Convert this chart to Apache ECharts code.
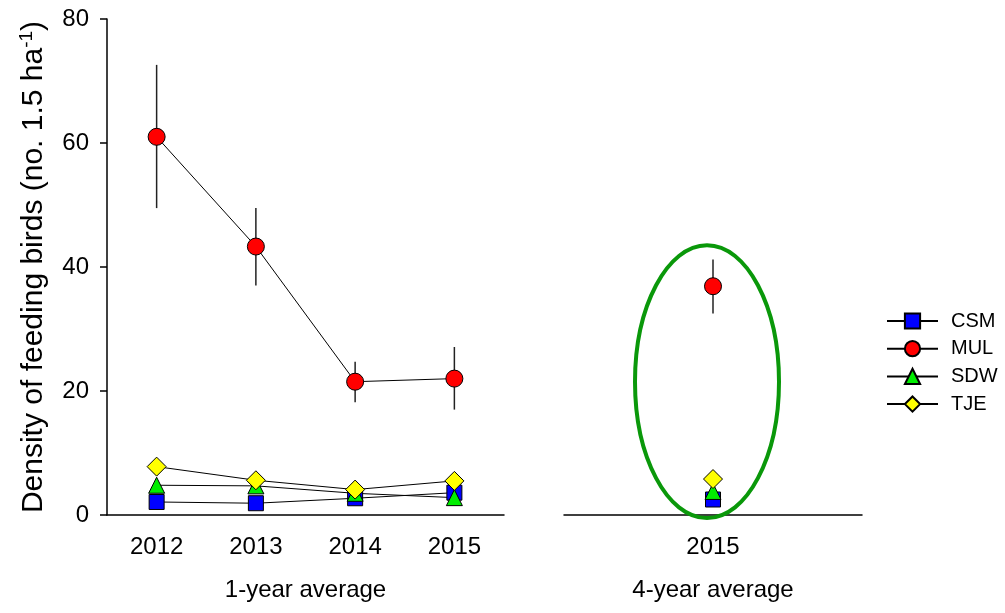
<!DOCTYPE html>
<html>
<head>
<meta charset="utf-8">
<script src="https://cdn.jsdelivr.net/npm/echarts@6/dist/echarts.min.js"></script>
<style>
html,body{margin:0;padding:0;background:#fff;}
#main{width:1005px;height:613px;}
</style>
</head>
<body>
<div id="main"></div>
<script>
// ---- data ----
const years1 = ['2012', '2013', '2014', '2015'];
const years4 = ['2015'];
const yTicks = [0, 20, 40, 60, 80];

const csm1 = [2.1, 1.9, 2.7, 3.6];
const mul1 = [61.0, 43.3, 21.5, 22.0];
const sdw1 = [4.8, 4.7, 3.5, 2.8];
const tje1 = [7.8, 5.6, 4.1, 5.5];
const mulLow1 = [49.5, 37.0, 18.2, 17.0];
const mulHigh1 = [72.6, 49.5, 24.7, 27.1];

const csm4 = [2.5];
const mul4 = [36.9];
const sdw4 = [3.8];
const tje4 = [5.8];
const mulLow4 = [32.5];
const mulHigh4 = [41.2];

const ellipseYRange = [-0.5, 43.5];

// ---- chart ----
const FONT = "'Liberation Sans', Arial, sans-serif";
const chart = echarts.init(document.getElementById('main'));

function errSeries(xIdx, cats, low, high) {
  return {
    type: 'custom', xAxisIndex: xIdx, yAxisIndex: xIdx, z: 1, silent: true,
    data: cats.map((c, i) => [i, low[i], high[i]]),
    encode: { x: 0, y: [1, 2] },
    renderItem: function (params, api) {
      const x = api.value(0);
      const p1 = api.coord([x, api.value(1)]);
      const p2 = api.coord([x, api.value(2)]);
      return { type: 'line', shape: { x1: p1[0], y1: p1[1], x2: p2[0], y2: p2[1] },
        style: { stroke: '#222', lineWidth: 1.5 } };
    }
  };
}

const styles = {
  CSM: { symbol: 'rect', size: 15, color: '#0000ff' },
  MUL: { symbol: 'circle', size: 17, color: '#ff0000' },
  SDW: { symbol: 'triangle', size: 16, color: '#00ee00' },
  TJE: { symbol: 'diamond', size: 19, color: '#ffff00' }
};

function lineSeries(name, xIdx, data) {
  const s = styles[name];
  return {
    name: name, type: 'line', xAxisIndex: xIdx, yAxisIndex: xIdx, z: 3,
    data: data, symbol: s.symbol, symbolSize: s.size,
    lineStyle: { color: '#000', width: 1 },
    itemStyle: { color: s.color, borderColor: '#000', borderWidth: 1 },
    emphasis: { disabled: true }
  };
}

const axisCommon = {
  axisLine: { lineStyle: { color: '#000', width: 1.5 } },
  axisTick: { alignWithLabel: true, length: 6, lineStyle: { color: '#000', width: 1.5 } },
  axisLabel: { color: '#000', fontSize: 24, fontFamily: FONT, margin: 20 },
  nameLocation: 'middle',
  nameTextStyle: { color: '#000', fontSize: 24, fontFamily: FONT },
  splitLine: { show: false }
};

const option = {
  animation: false,
  backgroundColor: '#fff',
  textStyle: { fontFamily: FONT },
  grid: [
    { left: 107, top: 19, width: 397, height: 496 },
    { left: 564, top: 19, width: 298, height: 496 }
  ],
  xAxis: [
    Object.assign({}, axisCommon, { type: 'category', gridIndex: 0, data: years1, name: '1-year average', nameGap: 63 }),
    Object.assign({}, axisCommon, { type: 'category', gridIndex: 1, data: years4, name: '4-year average', nameGap: 63 })
  ],
  yAxis: [
    {
      type: 'value', gridIndex: 0, min: yTicks[0], max: yTicks[yTicks.length - 1], interval: 20,
      axisLine: { show: true, lineStyle: { color: '#000', width: 1.5 } },
      axisTick: { show: true, length: 7, lineStyle: { color: '#000', width: 1.5 } },
      axisLabel: { color: '#000', fontSize: 24, fontFamily: FONT, margin: 18 },
      splitLine: { show: false },
      name: 'Density of feeding birds (no. 1.5 ha{sup|-1})',
      nameLocation: 'middle', nameGap: 57,
      nameTextStyle: { color: '#000', fontSize: 30, fontFamily: FONT,
        rich: { sup: { fontSize: 19, fontFamily: FONT, color: '#000', padding: [0, 0, 14, 0] } } }
    },
    { type: 'value', gridIndex: 1, min: 0, max: 80, interval: 20, show: false, splitLine: { show: false } }
  ],
  legend: {
    orient: 'vertical', left: 881, top: 306,
    itemWidth: 51, itemHeight: 19, itemGap: 7.7,
    data: ['CSM', 'MUL', 'SDW', 'TJE'],
    textStyle: { color: '#000', fontSize: 20, fontFamily: FONT, padding: [0, 0, 0, 8] },
    selectedMode: false
  },
  series: [
    errSeries(0, years1, mulLow1, mulHigh1),
    errSeries(1, years4, mulLow4, mulHigh4),
    lineSeries('CSM', 0, csm1),
    lineSeries('MUL', 0, mul1),
    lineSeries('SDW', 0, sdw1),
    lineSeries('TJE', 0, tje1),
    lineSeries('CSM', 1, csm4),
    lineSeries('MUL', 1, mul4),
    lineSeries('SDW', 1, sdw4),
    lineSeries('TJE', 1, tje4)
  ]
};
chart.setOption(option);

// ellipse annotation around the 4-year average points
const cx = chart.convertToPixel({ xAxisIndex: 1 }, years4[0]) - 6;
const yTop = chart.convertToPixel({ yAxisIndex: 1 }, ellipseYRange[1]);
const yBot = chart.convertToPixel({ yAxisIndex: 1 }, ellipseYRange[0]);
chart.setOption({
  graphic: [{
    type: 'ellipse', z: 2, silent: true,
    shape: { cx: cx, cy: (yTop + yBot) / 2, rx: 72, ry: (yBot - yTop) / 2 },
    style: { fill: 'none', stroke: '#0a980a', lineWidth: 4 }
  }]
});
</script>
</body>
</html>
